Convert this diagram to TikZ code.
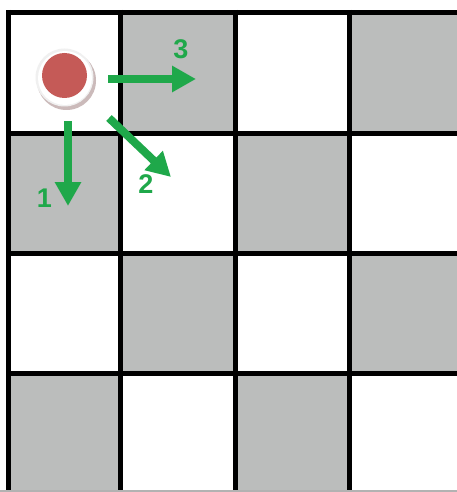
\documentclass[tikz,border=0pt]{standalone}
\usepackage{fontspec}
\setmainfont{Liberation Sans}
\usetikzlibrary{arrows.meta}
\definecolor{cellgray}{HTML}{BBBDBC}
\definecolor{arrowgreen}{HTML}{1FA84A}
\definecolor{ballred}{HTML}{C55A57}
\definecolor{shadowc}{HTML}{A88C8C}
\tikzset{
  gridline/.style={line width=5pt, black},
  movearrow/.style={line width=8pt, arrowgreen, -{Triangle[width=25pt,length=24pt]}},
  movelabel/.style={text=arrowgreen, font=\fontsize{27}{27}\selectfont\bfseries, inner sep=0pt},
}
\begin{document}
\begin{tikzpicture}[x=1pt,y=-1pt]
\useasboundingbox (0,0) rectangle (457,492);
\fill[white] (0,0) rectangle (457,492);
% cells
\def\xa{8.5}\def\xb{120.5}\def\xc{235.5}\def\xd{349.5}\def\xe{470}
\def\ya{12.5}\def\yb{133.5}\def\yc{253}\def\yd{373}\def\ye{500}
\fill[cellgray] (\xb,\ya) rectangle (\xc,\yb);
\fill[cellgray] (\xd,\ya) rectangle (\xe,\yb);
\fill[cellgray] (\xa,\yb) rectangle (\xb,\yc);
\fill[cellgray] (\xc,\yb) rectangle (\xd,\yc);
\fill[cellgray] (\xb,\yc) rectangle (\xc,\yd);
\fill[cellgray] (\xd,\yc) rectangle (\xe,\yd);
\fill[cellgray] (\xa,\yd) rectangle (\xb,\ye);
\fill[cellgray] (\xc,\yd) rectangle (\xd,\ye);
% grid lines
\foreach \x in {\xa,\xb,\xc,\xd} \draw[gridline] (\x,10) -- (\x,492);
\foreach \y in {\ya,\yb,\yc,\yd} \draw[gridline] (6,\y) -- (457,\y);
\draw[line width=1.5pt, gray!60] (0,491) -- (457,491);
% ball
\fill[shadowc!60] (66.5,80.5) circle (29.5);
\fill[gray!12] (64.5,77.5) circle (29);
\fill[white] (65,78) circle (27);
\fill[ballred] (64.5,75.5) circle (22.5);
\node[circle, minimum size=60pt, inner sep=0pt] (ball) at (64.5,77.5) {};
% arrow endpoints
\coordinate (s1) at (68,121);
\coordinate (t1) at (68,206);
\coordinate (s2) at (109,118);
\coordinate (t2) at (171,177);
\coordinate (s3) at (108,79);
\coordinate (t3) at (196,79);
\draw[movearrow] (s1) -- (t1);
\draw[movearrow] (s2) -- (t2);
\draw[movearrow] (s3) -- (t3);
% labels
\node[movelabel] (l1) at (44.5,198) {1};
\node[movelabel] (l2) at (146,184) {2};
\node[movelabel] (l3) at (181,49) {3};
\end{tikzpicture}
\end{document}
